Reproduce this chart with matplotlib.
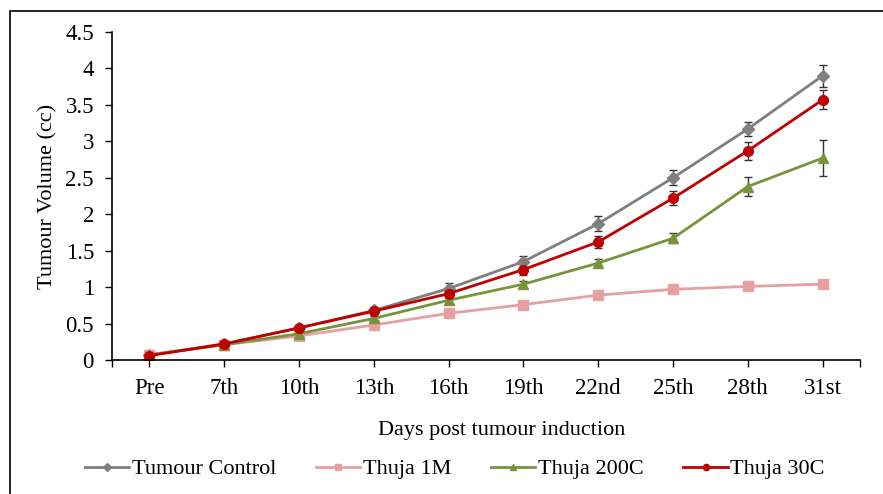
import matplotlib.pyplot as plt
from matplotlib.patches import Rectangle
from matplotlib.lines import Line2D
import numpy as np

days = ['Pre', '7th', '10th', '13th', '16th', '19th', '22nd', '25th', '28th', '31st']

control = [0.07, 0.22, 0.44, 0.68, 0.98, 1.35, 1.87, 2.50, 3.17, 3.90]
control_err = [0.02, 0.02, 0.03, 0.05, 0.07, 0.07, 0.10, 0.10, 0.10, 0.15]

t1m = [0.07, 0.21, 0.33, 0.48, 0.64, 0.76, 0.89, 0.97, 1.01, 1.04]
t1m_err = [0.02, 0.02, 0.02, 0.03, 0.05, 0.05, 0.05, 0.05, 0.03, 0.03]

t200c = [0.07, 0.21, 0.36, 0.57, 0.82, 1.04, 1.33, 1.67, 2.38, 2.77]
t200c_err = [0.02, 0.02, 0.02, 0.03, 0.04, 0.05, 0.06, 0.07, 0.13, 0.25]

t30c = [0.06, 0.22, 0.44, 0.67, 0.91, 1.24, 1.62, 2.22, 2.87, 3.57]
t30c_err = [0.02, 0.02, 0.03, 0.04, 0.06, 0.08, 0.08, 0.10, 0.12, 0.13]

plt.rcParams['font.family'] = ['Liberation Serif', 'DejaVu Serif']

fig = plt.figure(figsize=(8.83, 4.94), dpi=100)
ax = fig.add_axes([112 / 883, 1 - 360 / 494, (860 - 112) / 883, (360 - 32) / 494])

x = np.arange(len(days))
series = [
    ('Tumour Control', control, control_err, '#7f7f7f', 'D', 6),
    ('Thuja 1M', t1m, t1m_err, '#e6a0a0', 's', 6.5),
    ('Thuja 200C', t200c, t200c_err, '#77933c', '^', 7.5),
    ('Thuja 30C', t30c, t30c_err, '#c00000', 'o', 7),
]
handles = []
for name, vals, err, col, mk, ms in series:
    ax.errorbar(x, vals, yerr=err, color=col, marker=mk, markersize=ms,
                linewidth=2, ecolor='#333333', elinewidth=1, capsize=3,
                capthick=1)
    handles.append(Line2D([], [], color=col, marker=mk, markersize=4.5,
                          linewidth=2, label=name))

ax.set_xlim(-0.5, 9.5)
ax.set_ylim(0, 4.5)
ax.set_yticks(np.arange(0, 4.51, 0.5))
ax.set_yticklabels(['0', '0.5', '1', '1.5', '2', '2.5', '3', '3.5', '4', '4.5'])
ax.set_xticks(x)
ax.set_xticklabels(days)
ax.set_xticks([-0.5, 9.5], minor=True)
ax.tick_params(axis='both', which='both', direction='out', length=5, width=1,
               labelsize=16.5, colors='black', pad=8)
ax.spines['top'].set_visible(False)
ax.spines['right'].set_visible(False)
for s in ['left', 'bottom']:
    ax.spines[s].set_linewidth(1.2)

ax.set_ylabel('Tumour Volume (cc)', fontsize=16, labelpad=6)
ax.set_xlabel('Days post tumour induction', fontsize=16, labelpad=16,
              x=(502 - 112) / 748)

fig.legend(handles=handles, loc='center', bbox_to_anchor=(0.515, 1 - 469 / 494),
           ncol=4, frameon=False, fontsize=16, handlelength=2.0,
           columnspacing=1.8, handletextpad=0.1)

fig.patches.append(Rectangle((10 / 883, -0.05), 1.0, 1 - 11 / 494 + 0.05,
                             transform=fig.transFigure, fill=False,
                             edgecolor='black', linewidth=1.2))

fig.savefig('out.png', dpi=100)
